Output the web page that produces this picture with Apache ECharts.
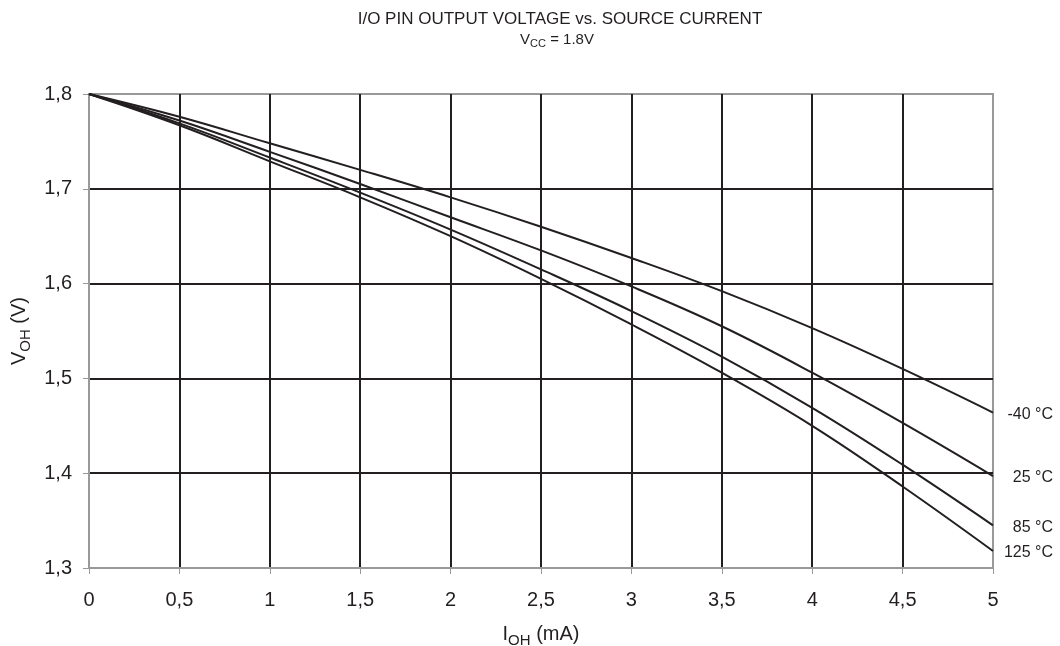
<!DOCTYPE html>
<html><head><meta charset="utf-8">
<script src="https://cdn.jsdelivr.net/npm/echarts@6/dist/echarts.min.js"></script>
<style>html,body{margin:0;padding:0;background:#fff}#c{width:1060px;height:646px}</style>
</head><body><div id="c"></div>
<script>
const currents = [0, 0.5, 1, 1.5, 2, 2.5, 3, 3.5, 4, 4.5, 5];
const seriesNames = ['-40 °C', '25 °C', '85 °C', '125 °C'];
const vM40  = [1.800, 1.776, 1.748, 1.720, 1.691, 1.660, 1.627, 1.592, 1.553, 1.510, 1.464];
const v25   = [1.800, 1.772, 1.739, 1.705, 1.670, 1.635, 1.597, 1.555, 1.506, 1.453, 1.397];
const v85   = [1.800, 1.769, 1.733, 1.696, 1.657, 1.615, 1.571, 1.523, 1.469, 1.409, 1.345];
const v125  = [1.800, 1.767, 1.729, 1.691, 1.650, 1.605, 1.557, 1.506, 1.450, 1.386, 1.318];
const values = [vM40, v25, v85, v125];

const FONT = '"Liberation Sans", Arial, sans-serif';
const INK = '#231f20';
const chart = echarts.init(document.getElementById('c'), null, {renderer: 'canvas'});
const fmt = v => String(+v.toFixed(2)).replace('.', ',');

chart.setOption({
  animation: false,
  backgroundColor: '#fff',
  textStyle: {fontFamily: FONT},
  graphic: [
    {type: 'text', x: 560, y: 19, style: {text: 'I/O PIN OUTPUT VOLTAGE vs. SOURCE CURRENT',
      font: '17px "Liberation Sans", Arial, sans-serif', fill: INK, textAlign: 'center', textVerticalAlign: 'middle'}},
    {type: 'text', x: 557, y: 40, style: {text: '{a|V}{s|CC}{a| = 1.8V}', fill: INK, textAlign: 'center', textVerticalAlign: 'middle',
      rich: {a: {fontFamily: FONT, fontSize: 15, fill: INK, verticalAlign: 'bottom'},
             s: {fontFamily: FONT, fontSize: 11, fill: INK, verticalAlign: 'bottom', padding: [0,0,-2,0]}}}}
  ],
  grid: {left: 89, right: 67, top: 94, bottom: 78, containLabel: false, outerBoundsMode: 'none',
         show: true, borderColor: '#999', borderWidth: 2, backgroundColor: 'transparent'},
  xAxis: {
    type: 'value', min: 0, max: 5, interval: 0.5,
    name: '{a|I}{s|OH}{a| (mA)}', nameLocation: 'middle', nameGap: 56,
    nameTextStyle: {rich: {a: {fontFamily: FONT, fontSize: 20, color: INK, verticalAlign: 'bottom'},
                           s: {fontFamily: FONT, fontSize: 15, color: INK, verticalAlign: 'bottom', padding: [0,0,-4,0]}}},
    axisLine: {show: true, lineStyle: {color: '#999', width: 2}},
    axisTick: {show: true, length: 6, lineStyle: {color: '#999', width: 1}},
    axisLabel: {fontFamily: FONT, fontSize: 20, color: INK, margin: 22, formatter: fmt},
    splitLine: {show: true, showMinLine: false, showMaxLine: false, lineStyle: {color: INK, width: 2}}
  },
  yAxis: {
    type: 'value', min: 1.3, max: 1.8, interval: 0.1,
    name: '{a|V}{s|OH}{a| (V)}', nameLocation: 'middle', nameGap: 58, nameRotate: 90,
    nameTextStyle: {rich: {a: {fontFamily: FONT, fontSize: 20, color: INK, verticalAlign: 'bottom'},
                           s: {fontFamily: FONT, fontSize: 15, color: INK, verticalAlign: 'bottom', padding: [0,0,-4,0]}}},
    axisLine: {show: true, lineStyle: {color: '#999', width: 2}},
    axisTick: {show: true, length: 6, lineStyle: {color: '#999', width: 1}},
    axisLabel: {fontFamily: FONT, fontSize: 20, color: INK, margin: 17, formatter: v => v.toFixed(1).replace('.', ',')},
    splitLine: {show: true, showMinLine: false, showMaxLine: false, lineStyle: {color: INK, width: 2}}
  },
  series: values.map((vals, i) => ({
    name: seriesNames[i], type: 'line', smooth: 0.4, showSymbol: false, symbol: 'none',
    data: currents.map((c, j) => [c, vals[j]]),
    lineStyle: {color: INK, width: 2},
    itemStyle: {color: INK},
    z: 5,
    endLabel: {show: true, distance: 13, offset: [0, 2], formatter: '{w|' + seriesNames[i] + '}',
               rich: {w: {width: 47, align: 'right', fontFamily: FONT, fontSize: 16, color: INK}}}
  }))
});
</script></body></html>
